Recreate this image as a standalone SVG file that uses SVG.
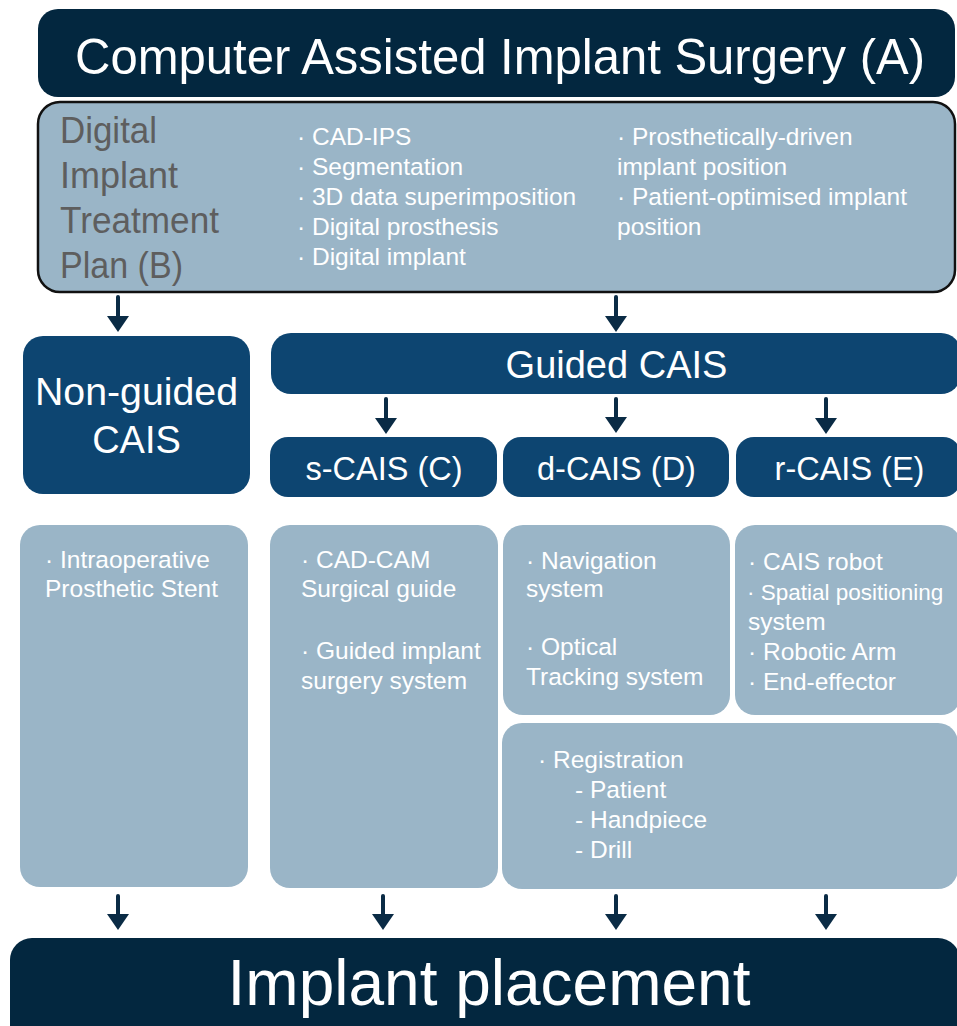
<svg xmlns="http://www.w3.org/2000/svg" width="957" height="1026" viewBox="0 0 957 1026">
<defs>
<style>
.dark{fill:#03273F}
.mid{fill:#0D4571}
.light{fill:#9AB5C7}
.plan{fill:#9AB5C7;stroke:#111;stroke-width:2.5}
text{font-family:"Liberation Sans",Arial,sans-serif}
.w{fill:#FFFFFF}
.g{fill:#5E5E5E;font-size:37px}
.s{fill:#FFFFFF;font-size:24.5px}
.s2{fill:#FFFFFF;font-size:22.5px}
.hd{fill:#FFFFFF;font-size:38px;text-anchor:middle}
.sub{fill:#FFFFFF;font-size:32.5px;text-anchor:middle}
.arr{stroke:#0A2B45;stroke-width:4;stroke-linecap:round;fill:none;marker-end:url(#ah)}
</style>
<marker id="ah" markerUnits="userSpaceOnUse" markerWidth="18" markerHeight="24" refX="0" refY="11" orient="auto" viewBox="0 0 18 24">
<path d="M0,0 L16,11 L0,22 Z" fill="#0A2B45"/>
</marker>
</defs>
<rect width="957" height="1026" fill="#FFFFFF"/>

<g id="connectors">
<line class="arr" x1="118" y1="297" x2="118" y2="316"/>
<line class="arr" x1="616" y1="297" x2="616" y2="316"/>
<line class="arr" x1="386" y1="399" x2="386" y2="418"/>
<line class="arr" x1="616" y1="399" x2="616" y2="417"/>
<line class="arr" x1="826" y1="399" x2="826" y2="418"/>
<line class="arr" x1="118" y1="896" x2="118" y2="914"/>
<line class="arr" x1="383" y1="896" x2="383" y2="914"/>
<line class="arr" x1="616" y1="896" x2="616" y2="914"/>
<line class="arr" x1="826" y1="896" x2="826" y2="914"/>
</g>

<g id="node-A">
<rect class="dark" x="38" y="9" width="917" height="88" rx="20"/>
<text class="w" x="75" y="74" font-size="50" textLength="850" lengthAdjust="spacingAndGlyphs">Computer Assisted Implant Surgery (A)</text>
</g>

<g id="node-B">
<rect class="plan" x="38" y="102" width="917" height="190" rx="22"/>
<text class="g" x="60" y="143" textLength="97" lengthAdjust="spacingAndGlyphs">Digital</text>
<text class="g" x="60" y="188" textLength="118" lengthAdjust="spacingAndGlyphs">Implant</text>
<text class="g" x="60" y="233" textLength="159" lengthAdjust="spacingAndGlyphs">Treatment</text>
<text class="g" x="60" y="278" textLength="123" lengthAdjust="spacingAndGlyphs">Plan (B)</text>
<text class="s" x="297" y="145">· CAD-IPS</text>
<text class="s" x="297" y="175">· Segmentation</text>
<text class="s" x="297" y="205">· 3D data superimposition</text>
<text class="s" x="297" y="235">· Digital prosthesis</text>
<text class="s" x="297" y="265">· Digital implant</text>
<text class="s" x="617" y="145">· Prosthetically-driven</text>
<text class="s" x="617" y="175">implant position</text>
<text class="s" x="617" y="205">· Patient-optimised implant</text>
<text class="s" x="617" y="235">position</text>
</g>

<g id="node-nonguided">
<rect class="mid" x="23" y="336" width="227" height="158" rx="20"/>
<text class="hd" x="136.5" y="405" font-size="39" textLength="203" lengthAdjust="spacingAndGlyphs">Non-guided</text>
<text class="hd" x="136.5" y="453" font-size="39">CAIS</text>
</g>

<g id="node-guided">
<rect class="mid" x="271" y="333" width="690" height="61" rx="20"/>
<text class="hd" x="616.5" y="378">Guided CAIS</text>
</g>

<g id="node-C">
<rect class="mid" x="270" y="437" width="227" height="60" rx="18"/>
<text class="sub" x="384" y="480">s-CAIS (C)</text>
</g>

<g id="node-D">
<rect class="mid" x="503" y="437" width="226" height="60" rx="18"/>
<text class="sub" x="616.5" y="480">d-CAIS (D)</text>
</g>

<g id="node-E">
<rect class="mid" x="736" y="437" width="225" height="60" rx="18"/>
<text class="sub" x="849.5" y="480">r-CAIS (E)</text>
</g>

<g id="node-nonguided-detail">
<rect class="light" x="20" y="525" width="228" height="362" rx="20"/>
<text class="s" x="45" y="568">· Intraoperative</text>
<text class="s" x="45" y="597">Prosthetic Stent</text>
</g>

<g id="node-C-detail">
<rect class="light" x="270" y="525" width="228" height="363" rx="20"/>
<text class="s" x="301" y="568">· CAD-CAM</text>
<text class="s" x="301" y="597">Surgical guide</text>
<text class="s" x="301" y="659">· Guided implant</text>
<text class="s" x="301" y="689">surgery system</text>
</g>

<g id="node-D-detail">
<rect class="light" x="503" y="525" width="227" height="190" rx="20"/>
<text class="s" x="526" y="569">· Navigation</text>
<text class="s" x="526" y="597">system</text>
<text class="s" x="526" y="655">· Optical</text>
<text class="s" x="526" y="685">Tracking system</text>
</g>

<g id="node-E-detail">
<rect class="light" x="735" y="525" width="226" height="190" rx="20"/>
<text class="s" x="748" y="570">· CAIS robot</text>
<text class="s2" x="747" y="600">· Spatial positioning</text>
<text class="s" x="748" y="630">system</text>
<text class="s" x="748" y="660">· Robotic Arm</text>
<text class="s" x="748" y="690">· End-effector</text>
</g>

<g id="node-registration">
<rect class="light" x="502" y="723" width="456" height="166" rx="20"/>
<text class="s" x="538" y="768">· Registration</text>
<text class="s" x="575" y="798">- Patient</text>
<text class="s" x="575" y="828">- Handpiece</text>
<text class="s" x="575" y="858">- Drill</text>
</g>

<g id="node-placement">
<rect class="dark" x="10" y="938" width="950" height="110" rx="22"/>
<text class="w" x="489" y="1005" font-size="64" text-anchor="middle">Implant placement</text>
</g>
</svg>
